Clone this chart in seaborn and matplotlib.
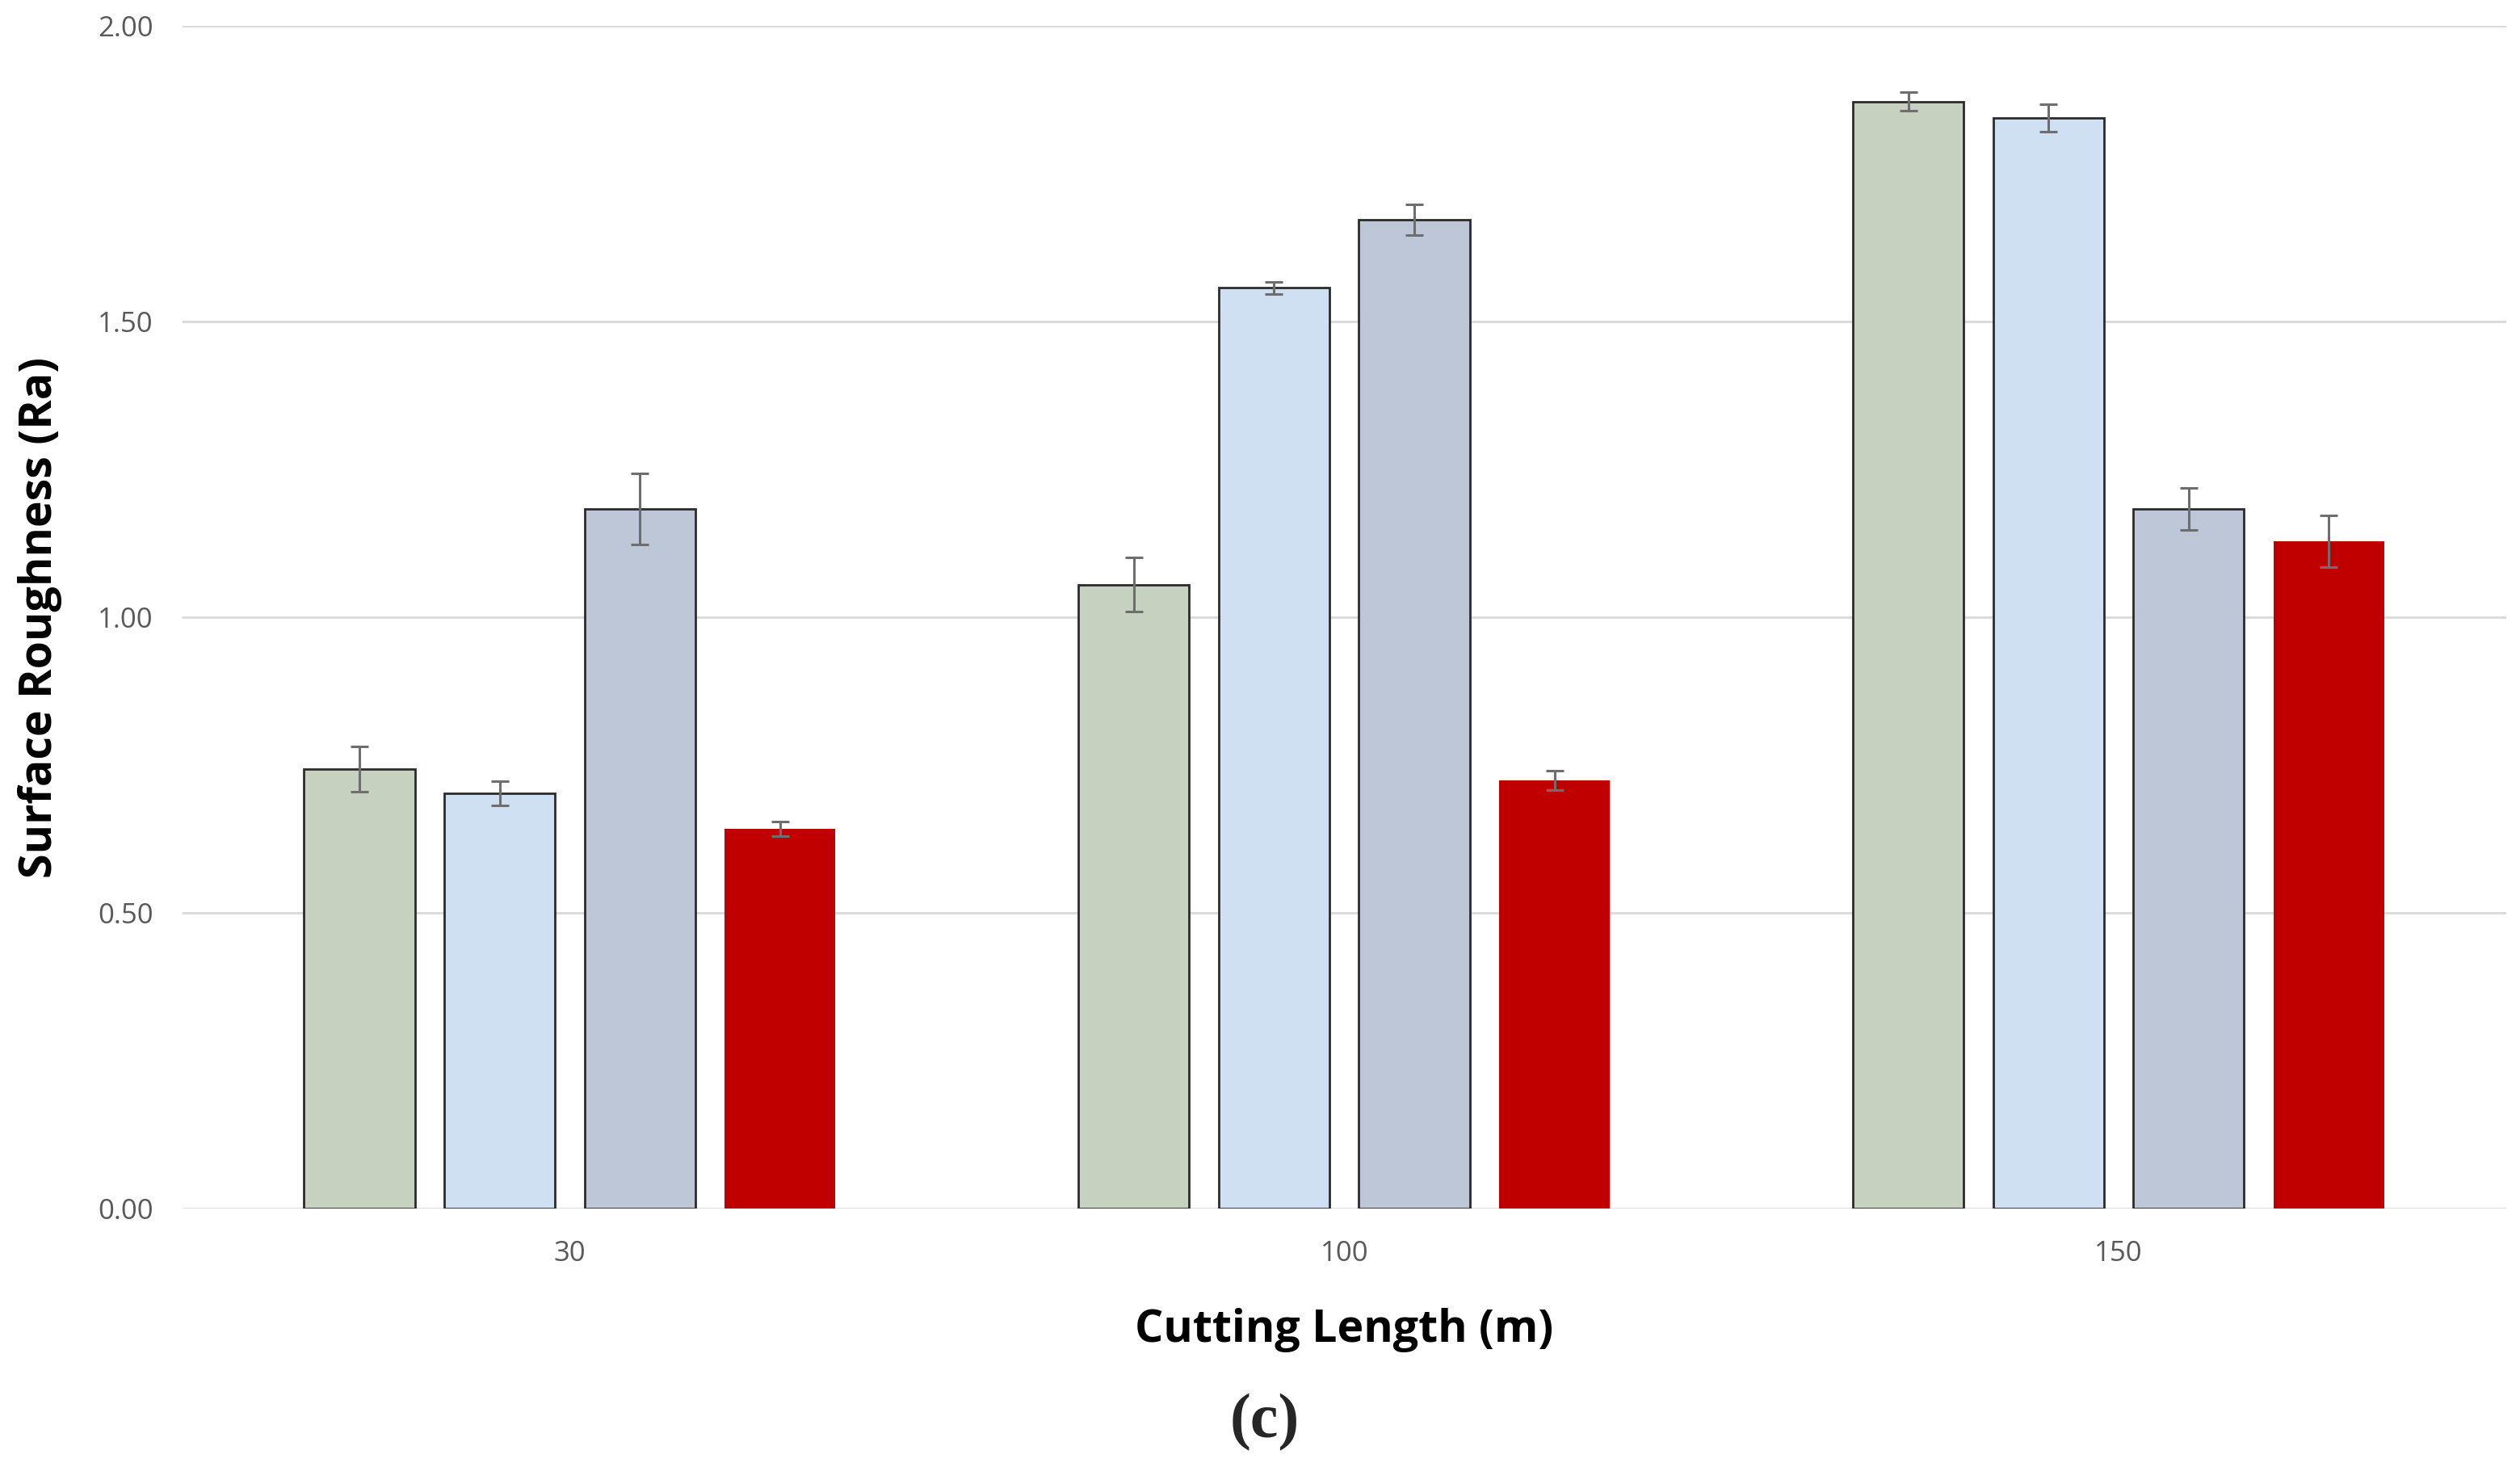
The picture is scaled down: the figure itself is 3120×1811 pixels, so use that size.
import matplotlib.pyplot as plt
import pandas as pd
import seaborn as sns

# cutting length groups and the four measured series (no legend in source)
lengths = ["30", "100", "150"]
series = ["Series 1", "Series 2", "Series 3", "Series 4"]

ra_s1 = [0.743, 1.055, 1.872]
ra_s2 = [0.702, 1.557, 1.844]
ra_s3 = [1.183, 1.672, 1.183]
ra_s4 = [0.642, 0.724, 1.128]

err_s1 = [0.038, 0.046, 0.016]
err_s2 = [0.020, 0.010, 0.023]
err_s3 = [0.060, 0.026, 0.035]
err_s4 = [0.012, 0.017, 0.044]

colors = ["#C6D2BF", "#CFE0F2", "#BDC7D8", "#C00000"]
edges = ["#2B2B2B", "#2B2B2B", "#2B2B2B", "#C00000"]

values = [ra_s1, ra_s2, ra_s3, ra_s4]
errors = [err_s1, err_s2, err_s3, err_s4]

rows = []
for name, vals in zip(series, values):
    for length, v in zip(lengths, vals):
        rows.append({"Cutting Length": length, "Series": name, "Ra": v})
df = pd.DataFrame(rows)

sns.set_theme(style="white")
plt.rcParams["font.family"] = ["Open Sans", "DejaVu Sans"]

fig = plt.figure(figsize=(15.6, 9.055), dpi=200)
ax = fig.add_axes([0.0724, 0.174, 0.922, 0.8083])

sns.barplot(
    data=df,
    x="Cutting Length",
    y="Ra",
    hue="Series",
    order=lengths,
    hue_order=series,
    palette=colors,
    width=0.724,
    gap=0.21,
    errorbar=None,
    legend=False,
    saturation=1,
    ax=ax,
)

for container, errs, edge in zip(ax.containers, errors, edges):
    xs = []
    ys = []
    for patch in container.patches:
        patch.set_edgecolor(edge)
        patch.set_linewidth(1.0 if edge != "#C00000" else 0)
        xs.append(patch.get_x() + patch.get_width() / 2)
        ys.append(patch.get_height())
    ax.errorbar(xs, ys, yerr=errs, fmt="none", ecolor="#6E6E6E",
                elinewidth=1.1, capsize=4, capthick=1.1, zorder=5)

ax.set_ylim(0, 2.0)
ax.set_xlim(-0.5, 2.5)
ax.set_yticks([0, 0.5, 1.0, 1.5, 2.0])
ax.set_yticklabels(["0.00", "0.50", "1.00", "1.50", "2.00"])
ax.yaxis.grid(True, color="#D9D9D9", linewidth=1.0)
ax.set_axisbelow(True)
for side in ["top", "right", "left", "bottom"]:
    ax.spines[side].set_visible(False)
ax.tick_params(axis="both", length=0, labelsize=12.5, labelcolor="#595959")
ax.tick_params(axis="y", pad=13)
ax.tick_params(axis="x", pad=14)

ax.set_xlabel("Cutting Length (m)", fontsize=20, fontweight="bold",
              color="black", labelpad=18)
ax.set_ylabel("Surface Roughness (Ra)", fontsize=20, fontweight="bold",
              color="black", labelpad=16)

fig.text(0.502, 0.028, "(c)", fontsize=28, fontweight="bold",
         family=["Liberation Serif", "DejaVu Serif"], ha="center", va="center")

fig.savefig("out.png", dpi=200)
